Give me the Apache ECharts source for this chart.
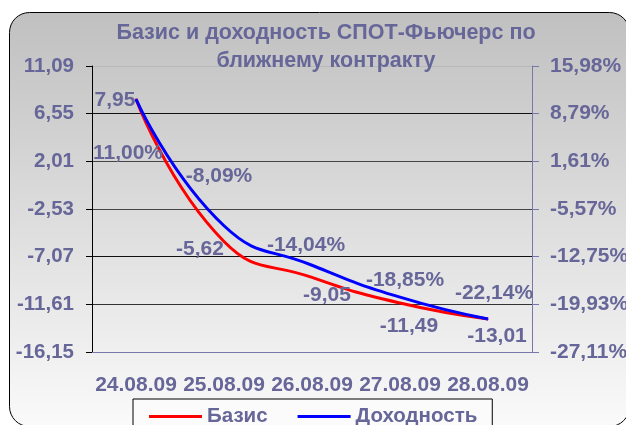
<!DOCTYPE html>
<html lang="ru">
<head>
    <meta charset="UTF-8">
    <title>Базис и доходность</title>
    <script src="https://cdn.jsdelivr.net/npm/echarts@6/dist/echarts.min.js"></script>
    <style>
        html, body { margin: 0; padding: 0; background: #fff; }
        #chart { width: 626px; height: 425px; }
    </style>
</head>
<body>
<div id="chart"></div>
<script type="text/javascript">
    // данные графика
    var dates = ['24.08.09', '25.08.09', '26.08.09', '27.08.09', '28.08.09'];
    var basis = [7.95, -5.62, -9.05, -11.49, -13.01];
    var yieldPct = [11.00, -8.09, -14.04, -18.85, -22.14];
    // шкалы и подписи делений
    var leftScale = [-16.15, 11.09];
    var rightScale = [-27.11, 15.98];
    var leftTicks = ['-16,15', '-11,61', '-7,07', '-2,53', '2,01', '6,55', '11,09'];
    var rightTicks = ['-27,11%', '-19,93%', '-12,75%', '-5,57%', '1,61%', '8,79%', '15,98%'];
    // смещения подписей (как в Excel)
    var basisLabelOffset = [[-21, 1], [-24, 8], [15, 18], [9, 23], [9, 17]];
    var yieldLabelOffset = [[-8, 54], [-5, -50], [-6, -20], [5, -17], [6, -26]];

    var txtColor = '#666699';
    var font = '"Liberation Sans", Arial, sans-serif';

    function fmt(v) {
        return (Math.round(v * 100) / 100).toFixed(2).replace('.', ',');
    }

    function buildData(values, offsets) {
        return values.map(function (v, i) {
            return { value: v, label: { offset: offsets[i] } };
        });
    }

    var chart = echarts.init(document.getElementById('chart'));
    var option = {
        animation: false,
        graphic: [{
            type: 'rect',
            z: -100,
            silent: true,
            shape: { x: 9.5, y: 12.5, width: 620, height: 414, r: 20 },
            style: {
                fill: new echarts.graphic.LinearGradient(0, 0, 0, 1, [
                    { offset: 0, color: '#c0c0c0' },
                    { offset: 1, color: '#fafafa' }
                ]),
                stroke: '#000',
                lineWidth: 1
            }
        }],
        title: {
            text: 'Базис и доходность СПОТ-Фьючерс по\nближнему контракту',
            left: 321,
            top: 14,
            textAlign: 'center',
            textStyle: {
                color: txtColor,
                fontFamily: font,
                fontWeight: 'bold',
                fontSize: 21.5,
                lineHeight: 28
            }
        },
        legend: {
            left: 133,
            top: 399,
            padding: [7, 15, 20, 16],
            itemGap: 30,
            itemWidth: 53,
            itemHeight: 3,
            icon: 'rect',
            backgroundColor: '#fbfbfb',
            borderColor: '#000',
            borderWidth: 1,
            textStyle: {
                color: txtColor,
                fontFamily: font,
                fontWeight: 'bold',
                fontSize: 20.5
            },
            data: ['Базис', 'Доходность']
        },
        grid: {
            left: 92, right: 94, top: 66, bottom: 73,
            containLabel: false,
            outerBoundsMode: 'none'
        },
        xAxis: {
            type: 'category',
            data: dates,
            boundaryGap: true,
            axisLine: { onZero: false, lineStyle: { color: '#7777aa', width: 1 } },
            axisTick: { length: 6, lineStyle: { color: '#7777aa' } },
            axisLabel: {
                interval: 0,
                color: txtColor,
                fontFamily: font,
                fontWeight: 'bold',
                fontSize: 21,
                margin: 23
            }
        },
        yAxis: [{
            type: 'value',
            min: leftScale[0],
            max: leftScale[1],
            interval: (leftScale[1] - leftScale[0]) / 6,
            axisLine: { show: true, lineStyle: { color: '#000' } },
            axisTick: { show: true, length: 6, lineStyle: { color: '#000' } },
            splitLine: {
                lineStyle: {
                    color: ['#333', '#333', '#111', '#444', '#444', '#111', '#b8b8b8']
                }
            },
            axisLabel: {
                color: txtColor,
                fontFamily: font,
                fontWeight: 'bold',
                fontSize: 20.5,
                margin: 18,
                formatter: function (v, i) { return leftTicks[i] !== undefined ? leftTicks[i] : fmt(v); }
            }
        }, {
            type: 'value',
            min: rightScale[0],
            max: rightScale[1],
            interval: (rightScale[1] - rightScale[0]) / 6,
            position: 'right',
            axisLine: { show: true, lineStyle: { color: '#7777aa' } },
            axisTick: { show: true, length: 7, lineStyle: { color: '#7777aa' } },
            splitLine: { show: false },
            axisLabel: {
                color: txtColor,
                fontFamily: font,
                fontWeight: 'bold',
                fontSize: 21,
                margin: 18,
                formatter: function (v, i) { return rightTicks[i] !== undefined ? rightTicks[i] : fmt(v) + '%'; }
            }
        }],
        series: [{
            name: 'Базис',
            type: 'line',
            yAxisIndex: 0,
            smooth: 0.5,
            symbol: 'circle',
            symbolSize: 1,
            color: '#ff0000',
            lineStyle: { width: 3, color: '#ff0000' },
            label: {
                show: true,
                position: 'inside',
                color: txtColor,
                fontFamily: font,
                fontWeight: 'bold',
                fontSize: 21,
                formatter: function (p) { return fmt(p.value); }
            },
            data: buildData(basis, basisLabelOffset)
        }, {
            name: 'Доходность',
            type: 'line',
            yAxisIndex: 1,
            smooth: 0.5,
            symbol: 'circle',
            symbolSize: 1,
            color: '#0000ff',
            lineStyle: { width: 3, color: '#0000ff' },
            label: {
                show: true,
                position: 'inside',
                color: txtColor,
                fontFamily: font,
                fontWeight: 'bold',
                fontSize: 21,
                formatter: function (p) { return fmt(p.value) + '%'; }
            },
            data: buildData(yieldPct, yieldLabelOffset)
        }]
    };
    chart.setOption(option);
</script>
</body>
</html>
